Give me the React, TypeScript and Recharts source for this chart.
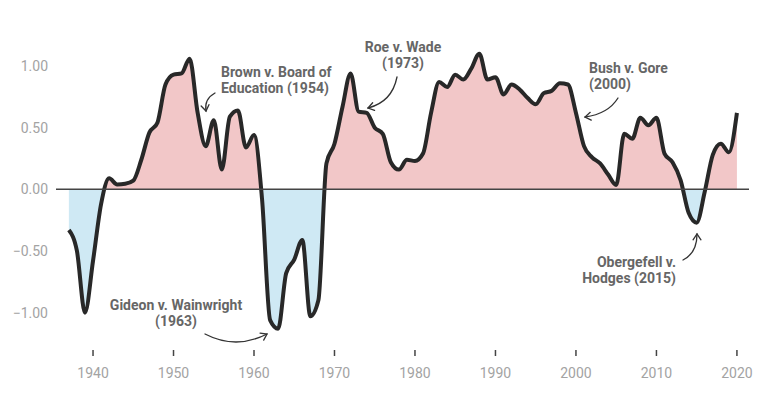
import React from "react";
import { Area, AreaChart, ReferenceLine, XAxis, YAxis } from "recharts";

const firstYear = 1937;
const values = [
  -0.33, -0.5, -1.0, -0.58, -0.12, 0.09, 0.04, 0.045, 0.07, 0.24,
  0.46, 0.54, 0.85, 0.93, 0.94, 1.06, 0.62, 0.35, 0.56, 0.16,
  0.59, 0.64, 0.34, 0.44, -0.08, -1.06, -1.13, -0.68, -0.57, -0.41,
  -1.03, -0.9, 0.21, 0.37, 0.67, 0.94, 0.63, 0.62, 0.5, 0.45,
  0.22, 0.16, 0.24, 0.23, 0.29, 0.62, 0.87, 0.83, 0.93, 0.89,
  0.98, 1.1, 0.89, 0.91, 0.77, 0.85, 0.81, 0.74, 0.69, 0.78,
  0.8, 0.86, 0.85, 0.62, 0.35, 0.26, 0.21, 0.12, 0.035, 0.45,
  0.41, 0.58, 0.52, 0.58, 0.29, 0.22, 0.075, -0.19, -0.27, -0.02,
  0.28, 0.37, 0.3, 0.62,
];
const years = values.map((_, i) => firstYear + i);
const xTicks = [1940, 1950, 1960, 1970, 1980, 1990, 2000, 2010, 2020];
const yTicks = [-1, -0.5, 0, 0.5, 1];

const data = years.map((year, i) => ({ year, score: values[i] }));

const maxV = Math.max(...values);
const minV = Math.min(...values);
const split = maxV / (maxV - minV);

const fmt = (v: number) => (v < 0 ? "\u2212" + Math.abs(v).toFixed(2) : v.toFixed(2));

// annotation arrows: quadratic curve, open head at the end
function Arrow({ d, tip, ctrl }: { d: string; tip: [number, number]; ctrl: [number, number] }) {
  const dx = tip[0] - ctrl[0];
  const dy = tip[1] - ctrl[1];
  const len = Math.hypot(dx, dy);
  const ux = dx / len;
  const uy = dy / len;
  const a = 0.6;
  const h = 7;
  const arm = (s: number) => {
    const c = Math.cos(s * a);
    const sn = Math.sin(s * a);
    const rx = ux * c - uy * sn;
    const ry = ux * sn + uy * c;
    return `${tip[0] - rx * h},${tip[1] - ry * h}`;
  };
  return (
    <g fill="none" stroke="#333" strokeWidth={1.3} strokeLinecap="round">
      <path d={d} />
      <polyline points={`${arm(1)} ${tip[0]},${tip[1]} ${arm(-1)}`} />
    </g>
  );
}

const noteStyle = { fontFamily: "Roboto", fontSize: 14, fontWeight: 700, fill: "#666" };

export default function App() {
  return (
    <div style={{ position: "absolute", left: 0, top: 0, width: 768, height: 403 }}>
      <AreaChart
        width={768}
        height={403}
        data={data}
        margin={{ top: 41, right: 19, bottom: 0, left: 0 }}
      >
        <defs>
          <linearGradient id="splitFill" x1="0" y1="0" x2="0" y2="1">
            <stop offset={split} stopColor="#f2c7c8" />
            <stop offset={split} stopColor="#cfe9f4" />
          </linearGradient>
        </defs>
        <XAxis
          dataKey="year"
          type="number"
          domain={[1935.4, 2021.5]}
          ticks={xTicks}
          axisLine={false}
          tickLine={{ stroke: "#444", strokeWidth: 1.5 }}
          tickSize={6}
          tickMargin={12}
          height={53}
          tick={{ fill: "#a3a3a3", fontSize: 14, fontFamily: "Roboto" }}
        />
        <YAxis
          type="number"
          domain={[-1.303, 1.203]}
          ticks={yTicks}
          tickFormatter={fmt}
          axisLine={false}
          tickLine={false}
          width={56}
          tick={{ fill: "#a3a3a3", fontSize: 14, fontFamily: "Roboto" }}
        />
        <Area
          type="monotone"
          dataKey="score"
          baseValue={0}
          stroke="#282828"
          strokeWidth={4}
          fill="url(#splitFill)"
          fillOpacity={1}
          isAnimationActive={false}
        />
        <ReferenceLine y={0} stroke="#444" strokeWidth={1.5} />
      </AreaChart>
      <svg
        width={768}
        height={403}
        style={{ position: "absolute", left: 0, top: 0, pointerEvents: "none" }}
      >
        <text {...noteStyle} x={221} y={76.5}>Brown v. Board of</text>
        <text {...noteStyle} x={221} y={92.5}>Education (1954)</text>
        <Arrow d="M215,93 Q204,99 206,111" tip={[206, 111]} ctrl={[204, 99]} />

        <text {...noteStyle} x={403} y={51.5} textAnchor="middle">Roe v. Wade</text>
        <text {...noteStyle} x={403} y={68} textAnchor="middle">(1973)</text>
        <Arrow d="M397,77 Q392,102 368,108" tip={[368, 108]} ctrl={[392, 102]} />

        <text {...noteStyle} x={589} y={73}>Bush v. Gore</text>
        <text {...noteStyle} x={589} y={89}>(2000)</text>
        <Arrow d="M618,98 Q608,114 585,117" tip={[585, 117]} ctrl={[608, 114]} />

        <text {...noteStyle} x={676} y={266.5} textAnchor="end">Obergefell v.</text>
        <text {...noteStyle} x={676} y={282.5} textAnchor="end">Hodges (2015)</text>
        <Arrow d="M683,260 Q697,253 697,234" tip={[697, 234]} ctrl={[697, 253]} />

        <text {...noteStyle} x={176} y={310} textAnchor="middle">Gideon v. Wainwright</text>
        <text {...noteStyle} x={176} y={325.5} textAnchor="middle">(1963)</text>
        <Arrow d="M205,334 Q236,350 267,334" tip={[267, 334]} ctrl={[236, 350]} />
      </svg>
    </div>
  );
}
